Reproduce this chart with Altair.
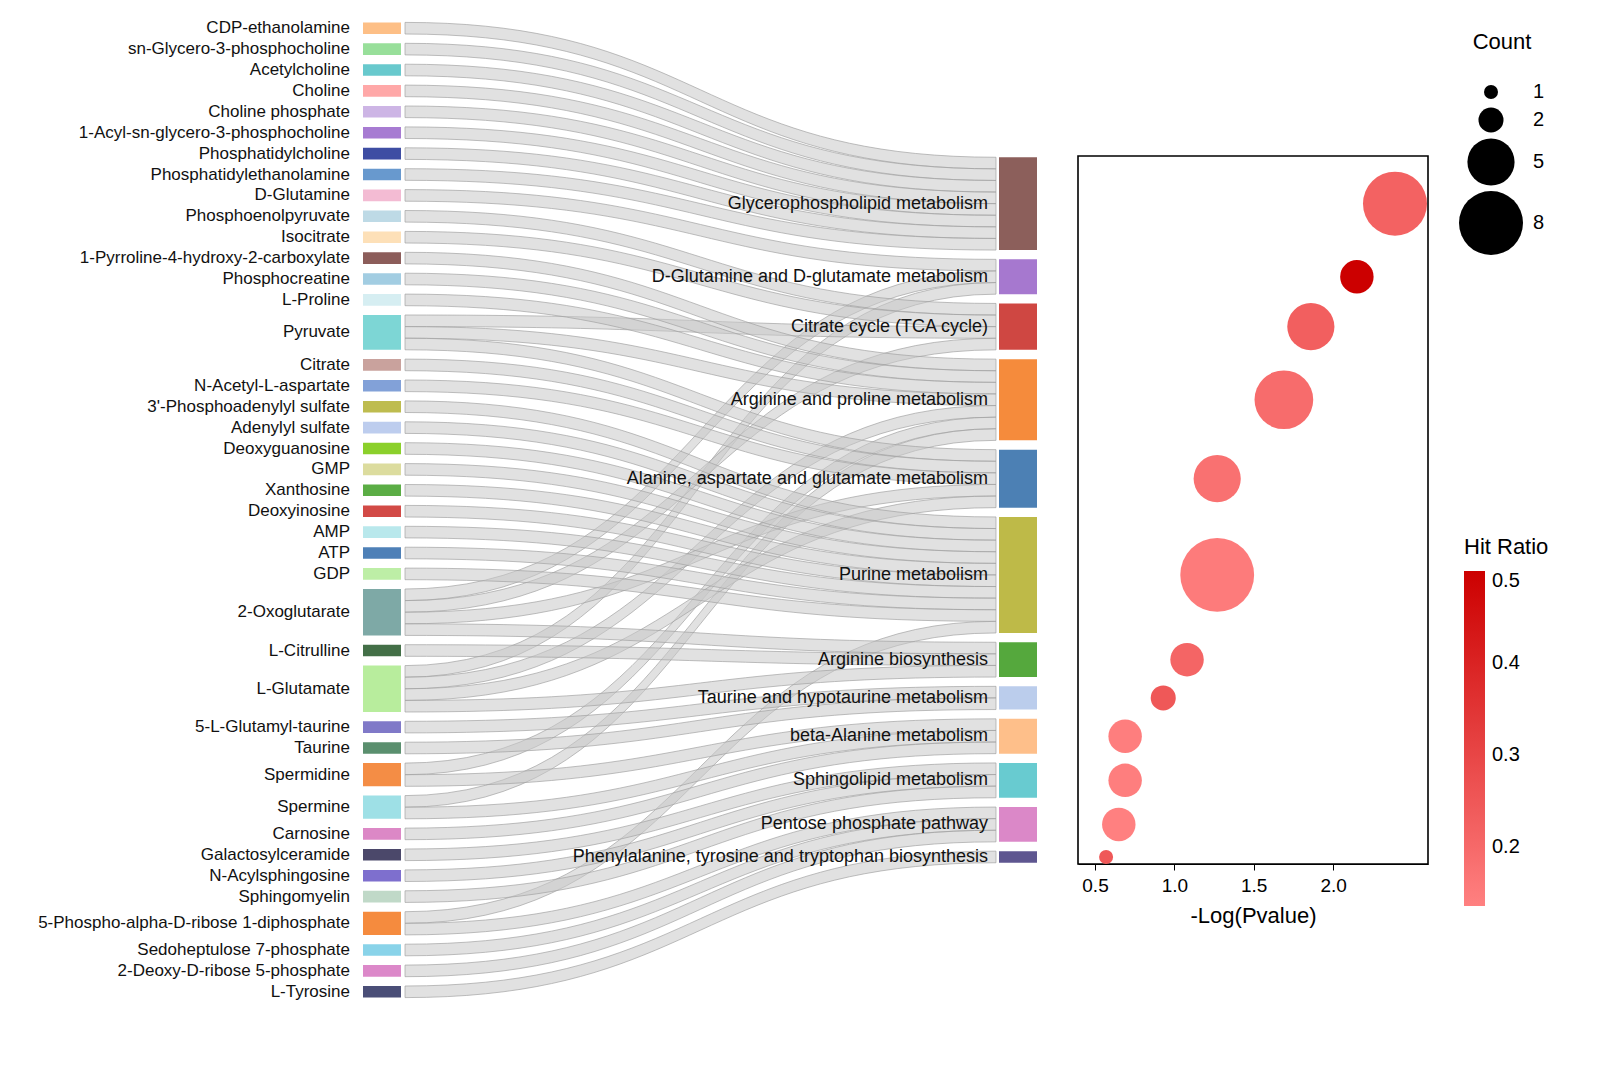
import altair as alt
import pandas as pd
import numpy as np
from collections import Counter

# ---------------- data ----------------
left_names = [
    "CDP-ethanolamine", "sn-Glycero-3-phosphocholine", "Acetylcholine", "Choline",
    "Choline phosphate", "1-Acyl-sn-glycero-3-phosphocholine", "Phosphatidylcholine",
    "Phosphatidylethanolamine", "D-Glutamine", "Phosphoenolpyruvate", "Isocitrate",
    "1-Pyrroline-4-hydroxy-2-carboxylate", "Phosphocreatine", "L-Proline", "Pyruvate",
    "Citrate", "N-Acetyl-L-aspartate", "3'-Phosphoadenylyl sulfate", "Adenylyl sulfate",
    "Deoxyguanosine", "GMP", "Xanthosine", "Deoxyinosine", "AMP", "ATP", "GDP",
    "2-Oxoglutarate", "L-Citrulline", "L-Glutamate", "5-L-Glutamyl-taurine", "Taurine",
    "Spermidine", "Spermine", "Carnosine", "Galactosylceramide", "N-Acylsphingosine",
    "Sphingomyelin", "5-Phospho-alpha-D-ribose 1-diphosphate", "Sedoheptulose 7-phosphate",
    "2-Deoxy-D-ribose 5-phosphate", "L-Tyrosine",
]
left_colors = [
    "#FDBF86", "#98DF9A", "#68C9CD", "#FFA8A8", "#CDB5E5", "#A77BD2", "#3E4DA3",
    "#6899CE", "#F3BBD3", "#BEDAE6", "#FDE0B8", "#8C5D5A", "#A2CDE2", "#D6EEF2",
    "#7DD6D5", "#C9A29D", "#82A1D8", "#BEBC4F", "#BDCDEE", "#8BD02B", "#DCDC9E",
    "#5BAD45", "#D24A46", "#B9E8EC", "#4E80B7", "#BDEEA6", "#7EA9A6", "#436F47",
    "#B8ED9D", "#8079C8", "#5A8F6E", "#F48D45", "#9EE0E6", "#DC88C6", "#4B486A",
    "#7E6FCE", "#C0D9C8", "#F58B3E", "#89D3E9", "#DC88C9", "#4A4E77",
]
right_names = [
    "Glycerophospholipid metabolism", "D-Glutamine and D-glutamate metabolism",
    "Citrate cycle (TCA cycle)", "Arginine and proline metabolism",
    "Alanine, aspartate and glutamate metabolism", "Purine metabolism",
    "Arginine biosynthesis", "Taurine and hypotaurine metabolism",
    "beta-Alanine metabolism", "Sphingolipid metabolism", "Pentose phosphate pathway",
    "Phenylalanine, tyrosine and tryptophan biosynthesis",
]
right_colors = [
    "#8C5F5B", "#A678CF", "#CF4742", "#F58B3C", "#4C80B4", "#BEBA48",
    "#55A83D", "#BBCDEC", "#FEBF8A", "#68CBD0", "#DB88C8", "#5E5690",
]
link_source = [
    "CDP-ethanolamine", "sn-Glycero-3-phosphocholine", "Acetylcholine", "Choline",
    "Choline phosphate", "1-Acyl-sn-glycero-3-phosphocholine", "Phosphatidylcholine",
    "Phosphatidylethanolamine",
    "D-Glutamine", "2-Oxoglutarate", "L-Glutamate",
    "Phosphoenolpyruvate", "Isocitrate", "Pyruvate", "2-Oxoglutarate",
    "1-Pyrroline-4-hydroxy-2-carboxylate", "Phosphocreatine", "L-Proline", "Pyruvate",
    "L-Glutamate", "Spermidine", "Spermine",
    "Pyruvate", "Citrate", "N-Acetyl-L-aspartate", "2-Oxoglutarate", "L-Glutamate",
    "3'-Phosphoadenylyl sulfate", "Adenylyl sulfate", "Deoxyguanosine", "GMP", "Xanthosine",
    "Deoxyinosine", "AMP", "ATP", "GDP", "5-Phospho-alpha-D-ribose 1-diphosphate",
    "2-Oxoglutarate", "L-Citrulline", "L-Glutamate",
    "5-L-Glutamyl-taurine", "Taurine",
    "Spermidine", "Spermine", "Carnosine",
    "Galactosylceramide", "N-Acylsphingosine", "Sphingomyelin",
    "5-Phospho-alpha-D-ribose 1-diphosphate", "Sedoheptulose 7-phosphate",
    "2-Deoxy-D-ribose 5-phosphate",
    "L-Tyrosine",
]
link_target = (
    ["Glycerophospholipid metabolism"] * 8
    + ["D-Glutamine and D-glutamate metabolism"] * 3
    + ["Citrate cycle (TCA cycle)"] * 4
    + ["Arginine and proline metabolism"] * 7
    + ["Alanine, aspartate and glutamate metabolism"] * 5
    + ["Purine metabolism"] * 10
    + ["Arginine biosynthesis"] * 3
    + ["Taurine and hypotaurine metabolism"] * 2
    + ["beta-Alanine metabolism"] * 3
    + ["Sphingolipid metabolism"] * 3
    + ["Pentose phosphate pathway"] * 3
    + ["Phenylalanine, tyrosine and tryptophan biosynthesis"] * 1
)
neglog_p = [2.39, 2.15, 1.86, 1.69, 1.27, 1.27, 1.08, 0.93, 0.69, 0.69, 0.65, 0.57]
hit_count = [8, 3, 5, 7, 5, 10, 3, 2, 3, 3, 3, 1]
hit_ratio = [0.222, 0.5, 0.23, 0.194, 0.179, 0.15, 0.214, 0.25, 0.143, 0.143, 0.136, 0.25]

# ---------------- sankey layout ----------------
UNIT = 11.6
GAP = 9.3
W, H = 1045, 1004
CENTER = H / 2
LX0, LX1 = 355, 393
RX0, RX1 = 991, 1029
LINK_X0, LINK_X1 = 397, 988
LLABEL_X, RLABEL_X = 342, 980

src_units = Counter(link_source)
tgt_units = Counter(link_target)


def column(names, units):
    total = sum(units[n] for n in names) * UNIT + (len(names) - 1) * GAP
    y = CENTER - total / 2
    pos = {}
    for n in names:
        h = units[n] * UNIT
        pos[n] = (y, y + h)
        y += h + GAP
    return pos


lpos = column(left_names, src_units)
rpos = column(right_names, tgt_units)
lidx = {n: i for i, n in enumerate(left_names)}
ridx = {n: i for i, n in enumerate(right_names)}

links = list(zip(link_source, link_target))
src_slot, tgt_slot = {}, {}
for s in left_names:
    ls = sorted([i for i, (a, b) in enumerate(links) if a == s], key=lambda i: ridx[links[i][1]])
    for k, i in enumerate(ls):
        src_slot[i] = k
for t in right_names:
    lt = sorted([i for i, (a, b) in enumerate(links) if b == t], key=lambda i: lidx[links[i][0]])
    for k, i in enumerate(lt):
        tgt_slot[i] = k

rows = []
ts = np.linspace(0, 1, 41)
for i, (s, t) in enumerate(links):
    ys = lpos[s][0] + (src_slot[i] + 0.5) * UNIT
    yt = rpos[t][0] + (tgt_slot[i] + 0.5) * UNIT
    dx = LINK_X1 - LINK_X0
    for tt in ts:
        x = LINK_X0 + dx * (1.5 * tt * (1 - tt) + tt ** 3)
        yc = ys + (yt - ys) * (3 * tt ** 2 - 2 * tt ** 3)
        rows.append({"link": i, "x": x, "ya": yc - UNIT / 2, "yb": yc + UNIT / 2})
link_df = pd.DataFrame(rows)

node_rows = []
for n, c in zip(left_names, left_colors):
    node_rows.append({"name": n, "color": c, "x0": LX0, "x1": LX1, "y0": lpos[n][0],
                      "y1": lpos[n][1], "yc": sum(lpos[n]) / 2, "lx": LLABEL_X, "side": "L"})
for n, c in zip(right_names, right_colors):
    node_rows.append({"name": n, "color": c, "x0": RX0, "x1": RX1, "y0": rpos[n][0],
                      "y1": rpos[n][1], "yc": sum(rpos[n]) / 2, "lx": RLABEL_X, "side": "R"})
node_df = pd.DataFrame(node_rows)

xs = alt.Scale(domain=[0, W], nice=False, zero=False)
ys_ = alt.Scale(domain=[0, H], reverse=True, nice=False, zero=False)

link_layer = alt.Chart(link_df).mark_area(
    fill="#c8c8c8", fillOpacity=0.55, stroke="#a0a0a0", strokeWidth=0.8, strokeOpacity=0.85
).encode(
    x=alt.X("x:Q", scale=xs, axis=None),
    y=alt.Y("ya:Q", scale=ys_, axis=None),
    y2="yb:Q",
    detail="link:N",
)
node_layer = alt.Chart(node_df).mark_rect().encode(
    x=alt.X("x0:Q", scale=xs, axis=None),
    x2="x1:Q",
    y=alt.Y("y0:Q", scale=ys_, axis=None),
    y2="y1:Q",
    fill=alt.Fill("color:N", scale=None),
)
left_text = alt.Chart(node_df).transform_filter("datum.side == 'L'").mark_text(
    align="right", baseline="middle", fontSize=17, color="#111111"
).encode(
    x=alt.X("lx:Q", scale=xs, axis=None),
    y=alt.Y("yc:Q", scale=ys_, axis=None),
    text="name:N",
)
right_text = alt.Chart(node_df).transform_filter("datum.side == 'R'").mark_text(
    align="right", baseline="middle", fontSize=18, color="#111111"
).encode(
    x=alt.X("lx:Q", scale=xs, axis=None),
    y=alt.Y("yc:Q", scale=ys_, axis=None),
    text="name:N",
)
sankey = alt.layer(link_layer, node_layer, left_text, right_text).properties(
    width=W, height=H, view=alt.ViewBackground(stroke=None)
)

# ---------------- bubble chart ----------------
bubble_df = pd.DataFrame({
    "pathway": right_names,
    "neglogp": neglog_p,
    "count": hit_count,
    "ratio": hit_ratio,
    "yc": [sum(rpos[n]) / 2 for n in right_names],
})
BH = 708
bubble = alt.Chart(bubble_df).mark_circle(opacity=1).encode(
    x=alt.X("neglogp:Q", scale=alt.Scale(domain=[0.393, 2.598], nice=False, zero=False),
            axis=alt.Axis(values=[0.5, 1.0, 1.5, 2.0], format=".1f", title="-Log(Pvalue)",
                          grid=False, labelFontSize=19, titleFontSize=22, titleFontWeight="normal",
                          tickColor="black", domainColor="black", labelColor="black",
                          titleColor="black", tickSize=6, labelPadding=6, titlePadding=10)),
    y=alt.Y("yc:Q", scale=alt.Scale(domain=[CENTER - BH / 2, CENTER + BH / 2], reverse=True,
                                    nice=False, zero=False), axis=None),
    size=alt.Size("count:Q",
                  scale=alt.Scale(type="pow", exponent=1.25, domain=[1, 8], range=[196, 4096], zero=False),
                  legend=alt.Legend(title="Count", values=[1, 2, 5, 8], orient="none",
                                    legendX=1451, legendY=24, titleFontSize=22,
                                    titleFontWeight="normal", labelFontSize=20,
                                    symbolFillColor="black", symbolStrokeColor="black",
                                    symbolOpacity=1, symbolStrokeWidth=0, labelOffset=10,
                                    titleAnchor="middle", titlePadding=28, rowPadding=5)),
    color=alt.Color("ratio:Q", scale=alt.Scale(range=["#FF8080", "#CC0000"], interpolate="rgb"),
                    legend=alt.Legend(title="Hit Ratio", values=[0.2, 0.3, 0.4, 0.5], format=".1f",
                                      orient="none", legendX=1456, legendY=529,
                                      gradientLength=335, gradientThickness=21,
                                      titleFontSize=22, titleFontWeight="normal",
                                      labelFontSize=20, labelOffset=7, titlePadding=12,
                                      labelBaseline="middle")),
).properties(width=350, height=BH,
             view=alt.ViewBackground(stroke="black", strokeWidth=1.6))

chart = alt.hconcat(sankey, bubble, spacing=25, center=True, bounds="flush").properties(
    padding={"left": 0, "top": 0, "right": 5, "bottom": 5}
).configure(font="Liberation Sans").configure_legend(
    labelColor="black", titleColor="black"
)

chart.save("out.html", embed_options={"renderer": "svg", "actions": False})
